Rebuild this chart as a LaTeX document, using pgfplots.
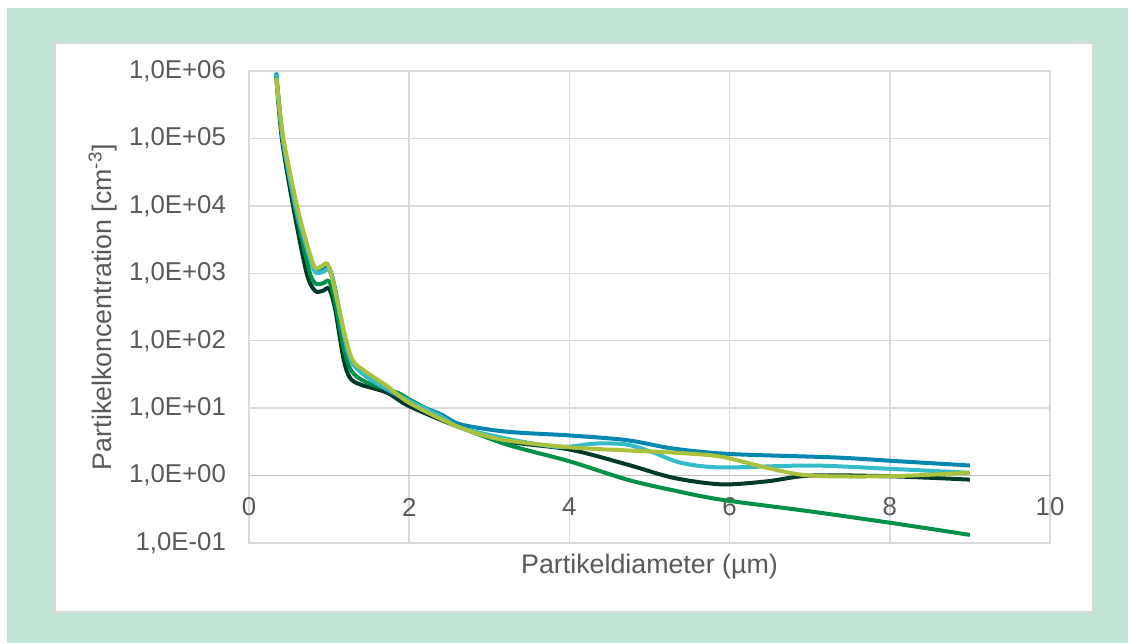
\documentclass[border=0pt]{standalone}
\usepackage{pgfplots}
\pgfplotsset{compat=1.18}
\usepackage{fontspec}
\setmainfont{Liberation Sans}

\definecolor{mint}{HTML}{C1E3D4}
\definecolor{panelgray}{HTML}{D9D9D9}
\definecolor{gridgray}{HTML}{D9D9D9}
\definecolor{axisgray}{HTML}{BFBFBF}
\definecolor{txtgray}{HTML}{595959}
\definecolor{sdark}{HTML}{003A2B}
\definecolor{sgreen}{HTML}{009048}
\definecolor{sblue}{HTML}{0088B0}
\definecolor{scyan}{HTML}{36BCC8}
\definecolor{slime}{HTML}{A9C13C}

\begin{document}
\begin{tikzpicture}[x=0.5pt,y=0.5pt]
% page, coloured frame and white chart panel
\fill[white] (0,0) rectangle (1128,643);
\fill[mint] (7,0) rectangle (1128,635);
\filldraw[fill=white, draw=panelgray, line width=0.6pt] (55,31) rectangle (1093,600);

\begin{axis}[
  at={(124.5pt,50pt)}, anchor=south west,
  scale only axis, width=400.5pt, height=236pt,
  xmin=0, xmax=10, ymode=log, ymin=0.1, ymax=1000000,
  xtick={0,2,4,6,8,10},
  ytick={0.1,1,10,100,1000,10000,100000,1000000},
  yticklabels={{1,0E-01},{1,0E+00},{1,0E+01},{1,0E+02},{1,0E+03},{1,0E+04},{1,0E+05},{1,0E+06}},
  yminorticks=false,
  /pgf/number format/assume math mode=true,
  grid=major,
  major grid style={draw=gridgray, line width=0.75pt},
  axis line style={draw=gridgray, line width=0.75pt},
  major tick length=0pt,
  tick label style={font=\fontsize{12.9}{15}\selectfont, text=txtgray},
  xticklabel style={anchor=center, yshift=18pt},
  yticklabel style={xshift=-8pt},
  extra y ticks={1},
  extra y tick labels={},
  extra y tick style={major grid style={draw=axisgray, line width=0.9pt}},
  xlabel={Partikeldiameter (µm)},
  ylabel={Partikelkoncentration [cm\textsuperscript{-3}]},
  every axis x label/.style={at={(rel axis cs:0.5,0)}, anchor=center, yshift=-12pt,
    font=\fontsize{13.4}{16}\selectfont, text=txtgray},
  every axis y label/.style={at={(rel axis cs:0,0.5)}, anchor=center, xshift=-73pt, rotate=90,
    font=\fontsize{13.4}{16}\selectfont, text=txtgray},
  every axis plot/.append style={line width=2pt, smooth, tension=0.5, no markers},
]

% dark series
\addplot[sdark] coordinates {
(0.34,851000) (0.41,100000) (0.55,10000) (0.72,1000) (0.825,550) (0.92,550)
(1.0,589) (1.075,295) (1.18,53.7) (1.26,28.2) (1.39,22.4) (1.72,17.0)
(2.0,10.7) (2.6,5.37) (3.2,3.24) (4.0,2.44) (4.72,1.46) (5.3,0.925)
(5.9,0.741) (6.47,0.822) (7.01,1.0) (8.0,0.977) (9.0,0.871)};

% green series
\addplot[sgreen] coordinates {
(0.34,891000) (0.42,100000) (0.57,10000) (0.75,1122) (0.825,708) (0.92,708)
(1.0,759) (1.07,398) (1.18,79.4) (1.28,35.5) (1.47,24.0) (1.85,17.0)
(2.0,13.5) (2.39,7.59) (2.64,5.25) (3.22,2.88) (4.0,1.63) (4.72,0.871)
(5.3,0.603) (5.89,0.440) (7.0,0.295) (8.0,0.200) (9.0,0.132)};

% blue series
\addplot[sblue] coordinates {
(0.34,950000) (0.42,104700) (0.58,10470) (0.74,2089) (0.825,1122) (0.92,1122)
(1.0,1202) (1.07,631) (1.2,104.7) (1.3,45.7) (1.55,25.1) (2.0,12.6)
(2.39,8.13) (2.64,5.75) (3.22,4.47) (4.0,3.94) (4.72,3.35) (5.3,2.51)
(6.0,2.09) (7.3,1.86) (8.0,1.66) (9.0,1.41)};

% cyan series
\addplot[scyan] coordinates {
(0.34,912000) (0.42,100000) (0.58,10000) (0.74,1995) (0.825,1047) (0.92,1047)
(1.0,1122) (1.07,603) (1.2,100) (1.3,44.7) (1.55,25.1) (2.0,12.9)
(2.39,7.59) (2.64,5.13) (3.22,3.52) (3.76,2.73) (4.0,2.69) (4.34,2.99)
(4.72,2.88) (5.05,2.19) (5.39,1.55) (5.89,1.32) (7.01,1.41) (8.0,1.26) (9.0,1.10)};

% lime series
\addplot[slime] coordinates {
(0.34,794000) (0.43,100000) (0.6,10000) (0.72,2818) (0.82,1230) (0.9,1259)
(0.98,1380) (1.05,741) (1.2,117.5) (1.3,50.1) (1.47,33.9) (1.72,21.4)
(2.0,12.0) (2.6,5.37) (3.14,3.44) (4.0,2.63) (4.72,2.36) (5.3,2.19)
(5.89,1.91) (6.47,1.30) (7.01,1.00) (8.0,0.977) (9.0,1.10)};

\end{axis}
\end{tikzpicture}
\end{document}
